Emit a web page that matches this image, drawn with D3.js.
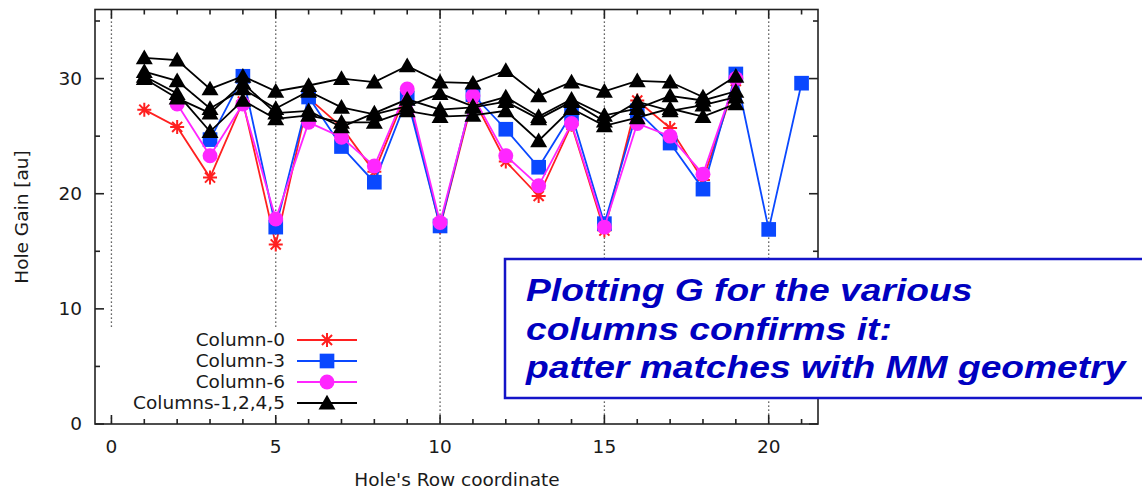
<!DOCTYPE html>
<html>
<head>
<meta charset="utf-8">
<script src="https://cdn.jsdelivr.net/npm/d3@7"></script>
<style>
  html, body { margin: 0; padding: 0; background: #fff; }
  svg { display: block; }
</style>
</head>
<body>
<svg id="chart" width="1142" height="489"></svg>
<script>
// ---- data ----
const col0X = d3.range(1, 20);
const col0 = [27.3, 25.8, 21.4, 28.0, 15.6, 28.3, 25.8, 21.9, 28.9, 17.1, 28.3, 22.8, 19.8, 26.0, 16.8, 28.1, 25.7, 21.2, 29.8];

const col3X = d3.range(3, 22);
const col3 = [24.7, 30.2, 17.1, 28.4, 24.1, 21.0, 28.3, 17.2, 28.6, 25.6, 22.3, 26.9, 17.4, 27.2, 24.4, 20.4, 30.4, 16.9, 29.6];

const col6X = d3.range(2, 20);
const col6 = [27.8, 23.3, 27.8, 17.8, 26.2, 24.9, 22.4, 29.1, 17.5, 28.5, 23.3, 20.7, 26.1, 17.1, 26.1, 25.0, 21.7, 30.0];

const otherX = d3.range(1, 20);
const colA = [31.8, 31.6, 29.1, 30.2, 28.9, 29.4, 30.0, 29.7, 31.1, 29.7, 29.6, 30.7, 28.5, 29.7, 28.9, 29.8, 29.7, 28.4, 30.2];
const colB = [30.6, 29.8, 27.4, 29.1, 27.4, 28.9, 27.5, 26.9, 27.6, 28.7, 27.6, 28.4, 26.7, 28.2, 26.8, 27.4, 28.5, 28.1, 28.9];
const colC = [30.2, 28.7, 25.4, 28.1, 26.5, 26.8, 26.2, 26.2, 27.2, 26.7, 26.8, 27.2, 24.6, 27.4, 25.9, 26.6, 27.4, 26.7, 27.8];
const colD = [30.0, 28.3, 27.0, 29.6, 27.0, 27.2, 25.8, 27.0, 28.2, 27.3, 27.5, 28.0, 26.5, 28.0, 26.3, 28.0, 27.2, 27.7, 28.4];

const xMajor = [0, 5, 10, 15, 20];
const yMajor = [0, 10, 20, 30];
const legendLabels = ['Column-0', 'Column-3', 'Column-6', 'Columns-1,2,4,5'];
const noteLines = ['Plotting G for the various', 'columns confirms it:', 'patter matches with MM geometry'];

// ---- setup ----
const svg = d3.select('#chart');
const font = 'DejaVu Sans, sans-serif';
const fs = 18.5;

const x = d3.scaleLinear().domain([-0.5, 21.5]).range([95, 818]);
const y = d3.scaleLinear().domain([0, 36]).range([424, 9.5]);

const series = [
    { xs: col0X, ys: col0, color: '#ff2020', sym: 'star', label: legendLabels[0] },
    { xs: col3X, ys: col3, color: '#0a48ff', sym: 'square', label: legendLabels[1] },
    { xs: col6X, ys: col6, color: '#ff26ff', sym: 'circle', label: legendLabels[2] },
    { xs: otherX, ys: colA, color: '#000', sym: 'triangle', label: legendLabels[3] },
    { xs: otherX, ys: colB, color: '#000', sym: 'triangle' },
    { xs: otherX, ys: colC, color: '#000', sym: 'triangle' },
    { xs: otherX, ys: colD, color: '#000', sym: 'triangle' }
];

// marker drawing
function drawMarker(g, sym, color, cx, cy) {
    if (sym === 'star') {
        const r = 7;
        const d = r * 0.72;
        g.append('path')
            .attr('d', `M${cx - r},${cy}L${cx + r},${cy}M${cx},${cy - r}L${cx},${cy + r}` +
                       `M${cx - d},${cy - d}L${cx + d},${cy + d}M${cx - d},${cy + d}L${cx + d},${cy - d}`)
            .attr('stroke', color).attr('stroke-width', 2).attr('fill', 'none');
    } else {
        const shape = { square: d3.symbolSquare, circle: d3.symbolCircle, triangle: d3.symbolTriangle }[sym];
        const size = { square: 215, circle: 175, triangle: 125 }[sym];
        g.append('path')
            .attr('d', d3.symbol().type(shape).size(size)())
            .attr('transform', `translate(${cx},${cy + (sym === 'triangle' ? 1.5 : 0)})`)
            .attr('fill', color);
    }
}

// ---- grid (vertical dotted) ----
svg.append('g').selectAll('line').data(xMajor).join('line')
    .attr('x1', d => x(d)).attr('x2', d => x(d))
    .attr('y1', y(36)).attr('y2', y(0))
    .attr('stroke', '#333').attr('stroke-width', 1.3)
    .attr('stroke-dasharray', '1.3,2.7');

// ---- series ----
const line = d3.line();
series.forEach(s => {
    const pts = s.xs.map((v, i) => [x(v), y(s.ys[i])]);
    const g = svg.append('g');
    g.append('path')
        .attr('d', line(pts))
        .attr('fill', 'none')
        .attr('stroke', s.color)
        .attr('stroke-width', 1.8);
    pts.forEach(p => drawMarker(g, s.sym, s.color, p[0], p[1]));
});

// ---- legend (opaque) ----
const leg = svg.append('g');
leg.append('rect')
    .attr('x', 100).attr('y', 328).attr('width', 264).attr('height', 88)
    .attr('fill', '#fff');
series.filter(s => s.label).forEach((s, i) => {
    const ly = 340 + i * 21;
    leg.append('text')
        .attr('x', 285).attr('y', ly).attr('dy', '0.35em')
        .attr('text-anchor', 'end')
        .attr('font-family', font).attr('font-size', fs)
        .attr('fill', '#1a1a1a')
        .text(s.label);
    leg.append('line')
        .attr('x1', 297).attr('x2', 357).attr('y1', ly).attr('y2', ly)
        .attr('stroke', s.color).attr('stroke-width', 1.8);
    drawMarker(leg, s.sym, s.color, 327, ly);
});

// ---- frame and ticks ----
svg.append('rect')
    .attr('x', x(-0.5)).attr('y', y(36))
    .attr('width', x(21.5) - x(-0.5)).attr('height', y(0) - y(36))
    .attr('fill', 'none').attr('stroke', '#222').attr('stroke-width', 1.6);

const ticks = svg.append('g').attr('stroke', '#222').attr('stroke-width', 1.6);
d3.range(0, 22).forEach(v => {
    const len = v % 5 === 0 ? 9 : 5;
    ticks.append('line').attr('x1', x(v)).attr('x2', x(v)).attr('y1', y(0)).attr('y2', y(0) - len);
    ticks.append('line').attr('x1', x(v)).attr('x2', x(v)).attr('y1', y(36)).attr('y2', y(36) + len);
});
d3.range(0, 36, 5).forEach(v => {
    const len = v % 10 === 0 ? 9 : 5;
    ticks.append('line').attr('x1', x(-0.5)).attr('x2', x(-0.5) + len).attr('y1', y(v)).attr('y2', y(v));
    ticks.append('line').attr('x1', x(21.5)).attr('x2', x(21.5) - len).attr('y1', y(v)).attr('y2', y(v));
});

// tick labels
svg.append('g').selectAll('text').data(xMajor).join('text')
    .attr('x', d => x(d)).attr('y', 447).attr('dy', '0.35em')
    .attr('text-anchor', 'middle')
    .attr('font-family', font).attr('font-size', fs).attr('fill', '#1a1a1a')
    .text(d => d);
svg.append('g').selectAll('text').data(yMajor).join('text')
    .attr('x', 82).attr('y', d => y(d)).attr('dy', '0.35em')
    .attr('text-anchor', 'end')
    .attr('font-family', font).attr('font-size', fs).attr('fill', '#1a1a1a')
    .text(d => d);

// axis titles
svg.append('text')
    .attr('x', 457).attr('y', 480).attr('dy', '0.35em')
    .attr('text-anchor', 'middle')
    .attr('font-family', font).attr('font-size', fs).attr('fill', '#1a1a1a')
    .text("Hole's Row coordinate");
svg.append('text')
    .attr('transform', 'translate(22,217) rotate(-90)')
    .attr('dy', '0.35em')
    .attr('text-anchor', 'middle')
    .attr('font-family', font).attr('font-size', fs).attr('fill', '#1a1a1a')
    .text('Hole Gain [au]');

// ---- callout box ----
const note = svg.append('g');
note.append('rect')
    .attr('x', 505).attr('y', 259).attr('width', 700).attr('height', 139)
    .attr('fill', '#fff').attr('stroke', '#1414c8').attr('stroke-width', 2.5);
// slide text is stretched wider than its height suggests
note.selectAll('text').data(noteLines).join('text')
    .attr('transform', (d, i) => `translate(526,${301 + i * 38.5}) scale(1.2,1)`)
    .attr('font-family', 'Liberation Sans, Arial, sans-serif')
    .attr('font-weight', 'bold').attr('font-style', 'italic')
    .attr('font-size', 31).attr('fill', '#0000c0')
    .text(d => d);
</script>
</body>
</html>
